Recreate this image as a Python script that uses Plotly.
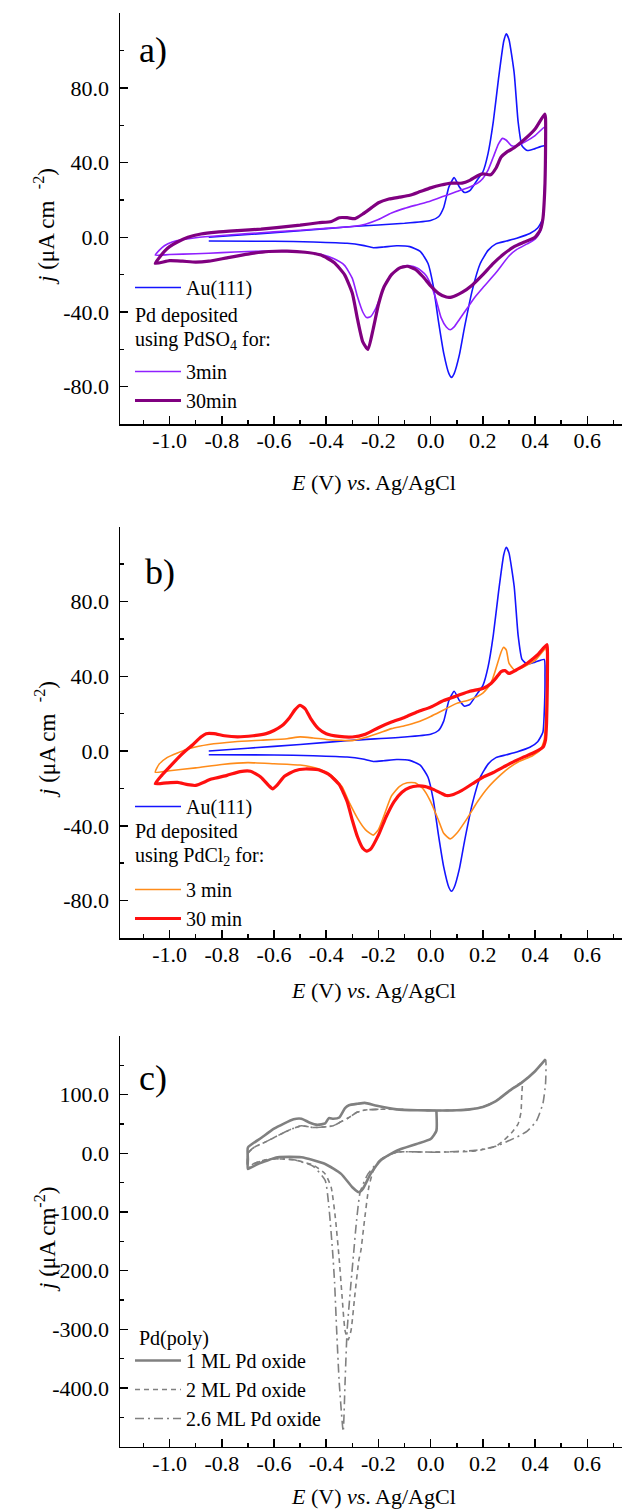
import plotly.graph_objects as go

W, H = 622, 1512

# ---------------- data (E in V, j in uA cm^-2) ----------------
# Panel a / b : Au(111)
au_E = [-0.85, -0.7, -0.5, -0.3, -0.1, 0.0, 0.03, 0.05, 0.07, 0.09, 0.11, 0.13, 0.15, 0.18, 0.2, 0.22, 0.24,
        0.26, 0.28, 0.29, 0.30, 0.32, 0.335, 0.35, 0.37, 0.40, 0.435,
        0.438, 0.435, 0.43, 0.41, 0.38, 0.33, 0.29, 0.25, 0.22, 0.19, 0.16, 0.13, 0.11, 0.09, 0.08, 0.07,
        0.05, 0.03, 0.01, -0.01, -0.04, -0.08, -0.13, -0.18, -0.22, -0.26, -0.32, -0.45, -0.6, -0.85]
au_j = [0.0, 1.5, 3.5, 5.8, 7.5, 9.0, 11, 16, 27, 32, 27, 24, 25, 31, 35, 45, 62,
        85, 105, 109, 106, 88, 62, 49, 46.5, 47.5, 49,
        40, 20, 10, 5, 2, -0.5, -2, -3.5, -7, -14, -28, -48, -63, -73, -75, -73,
        -62, -45, -26, -14, -7.5, -5, -4.5, -5.2, -5.6, -4.3, -3.2, -2.5, -2.1, -2.0]

# Panel a : PdSO4 3 min
s3_E = [-1.055, -1.04, -1.02, -0.99, -0.95, -0.9, -0.8, -0.7, -0.6, -0.5, -0.4, -0.3, -0.25, -0.2, -0.15,
        -0.1, -0.05, 0.0, 0.05, 0.1, 0.15, 0.18, 0.2, 0.22, 0.24, 0.26, 0.275, 0.29, 0.31, 0.33, 0.36, 0.4,
        0.436, 0.44, 0.44, 0.437, 0.43, 0.42, 0.4, 0.37, 0.33, 0.3, 0.25, 0.2, 0.17, 0.14, 0.11, 0.09,
        0.075, 0.06, 0.04, 0.02, 0.0, -0.02, -0.05, -0.08, -0.11, -0.14, -0.17, -0.19, -0.21, -0.23,
        -0.245, -0.26, -0.28, -0.30, -0.33, -0.37, -0.42, -0.5, -0.6, -0.7, -0.8, -0.9, -1.0, -1.055]
s3_j = [-9.6, -7, -4.5, -2.5, -1.2, -0.2, 1.0, 2.0, 2.9, 3.8, 4.8, 5.8, 7, 9.5, 13,
        15.5, 17.5, 19.5, 22, 24.5, 27, 29, 31.5, 36, 43, 50, 53, 52, 49, 49, 51, 54.5,
        59, 57, 45, 25, 10, 3, -1, -3.5, -6.5, -10, -19, -27, -32, -38, -44, -48,
        -49.5, -48, -43, -33, -25, -20, -16.5, -15.2, -15.8, -18.5, -24, -31, -38, -42.5,
        -43, -40, -32, -22, -15, -11.5, -9.2, -7.8, -7.4, -7.6, -8.2, -8.8, -9.2, -9.6]

# Panel a : PdSO4 30 min
s30_E = [-1.055, -1.04, -1.02, -1.0, -0.97, -0.93, -0.88, -0.82, -0.74, -0.65, -0.59, -0.5, -0.43, -0.38,
         -0.35, -0.32, -0.29, -0.26, -0.23, -0.2, -0.16, -0.12, -0.08, -0.04, 0.0, 0.04, 0.08, 0.12, 0.15,
         0.18, 0.2, 0.23, 0.25, 0.27, 0.29, 0.32, 0.36, 0.4, 0.437,
         0.44, 0.44, 0.437, 0.43, 0.42, 0.4, 0.36, 0.32, 0.28, 0.24, 0.2, 0.16, 0.12, 0.08, 0.06, 0.03,
         0.0, -0.03, -0.06, -0.09, -0.12, -0.15, -0.18, -0.2, -0.22, -0.24, -0.26, -0.28, -0.3, -0.33,
         -0.37, -0.42, -0.48, -0.55, -0.62, -0.7, -0.78, -0.85, -0.9, -0.95, -1.0, -1.055]
s30_j = [-14, -11, -7.5, -5, -2.5, 0, 1.8, 2.8, 3.6, 4.4, 5.2, 6.5, 7.8, 8.5,
         10.5, 10.5, 10, 12.5, 15.5, 18.5, 20.5, 21.5, 22.5, 24.5, 26.5, 28, 29, 29, 30.5,
         33, 34, 33.5, 37, 43, 45.5, 48, 52.5, 58, 66,
         64, 45, 25, 10, 4, 0, -2.5, -5, -9, -14, -20, -25.5, -29.5, -32, -32, -30,
         -26, -21, -17, -15.5, -16.5, -20, -27, -36, -49, -60, -56, -44, -30, -20,
         -13.5, -9.5, -8, -7.4, -7.6, -9, -11, -12.8, -13.3, -12.8, -12.5, -14]

# Panel b : PdCl2 3 min
c3_E = [-1.055, -1.04, -1.01, -0.97, -0.92, -0.85, -0.75, -0.65, -0.55, -0.5, -0.45, -0.4, -0.35, -0.3,
        -0.25, -0.2, -0.15, -0.1, -0.05, 0.0, 0.05, 0.1, 0.15, 0.2, 0.23, 0.25, 0.27, 0.28, 0.29, 0.3,
        0.32, 0.35, 0.4, 0.44,
        0.445, 0.445, 0.44, 0.435, 0.42, 0.39, 0.34, 0.3, 0.27, 0.22, 0.18, 0.14, 0.1, 0.075, 0.05,
        0.03, 0.0, -0.03, -0.06, -0.09, -0.12, -0.15, -0.18, -0.2, -0.22, -0.25, -0.28, -0.31, -0.34,
        -0.38, -0.43, -0.5, -0.6, -0.7, -0.8, -0.9, -1.0, -1.055]
c3_j = [-11.3, -7, -3.5, -1, 1.5, 3.5, 5, 5.8, 6.6, 7.6, 7, 6.2, 5.8, 5.6,
        7.2, 9.5, 12, 13.5, 15.5, 18.5, 22, 25.5, 27.5, 31, 36, 44, 53, 55.5, 54, 47,
        43.5, 44.5, 48.5, 54.8,
        53, 35, 15, 6, 0.5, -2.5, -5.5, -9, -12.5, -19.5, -27, -36, -44, -47, -44,
        -37, -27, -20, -17, -17, -19, -24, -35, -42, -45, -42, -36, -28, -19,
        -13, -9.5, -7.5, -6.8, -6.2, -7.2, -9, -10.5, -11.3]

# Panel b : PdCl2 30 min
c30_E = [-1.055, -1.03, -1.0, -0.97, -0.94, -0.91, -0.88, -0.86, -0.83, -0.79, -0.74, -0.68, -0.63, -0.6,
         -0.57, -0.54, -0.52, -0.5, -0.48, -0.46, -0.43, -0.4, -0.35, -0.3, -0.25, -0.2, -0.15, -0.1,
         -0.05, 0.0, 0.05, 0.1, 0.15, 0.2, 0.23, 0.25, 0.27, 0.285, 0.3, 0.33, 0.37, 0.41, 0.445,
         0.447, 0.447, 0.444, 0.44, 0.43, 0.4, 0.36, 0.32, 0.28, 0.24, 0.2, 0.16, 0.12, 0.08, 0.06,
         0.04, 0.01, -0.02, -0.05, -0.08, -0.11, -0.14, -0.17, -0.2, -0.23, -0.245, -0.26, -0.28, -0.3,
         -0.32, -0.35, -0.39, -0.43, -0.48, -0.52, -0.56, -0.59, -0.605, -0.62, -0.65, -0.69, -0.73,
         -0.78, -0.84, -0.9, -0.93, -0.97, -1.01, -1.055]
c30_j = [-17.5, -13, -8.5, -4, 0, 3.5, 7.5, 9.3, 9.3, 8.2, 7.6, 8.2, 9.3, 11,
         13.5, 18, 22, 24.5, 22.5, 17.5, 12, 9.3, 7.8, 7.5, 9, 12.5, 15.5, 18,
         21, 23.5, 27, 29.5, 32, 33.5, 36, 39, 42.5, 43, 41.5, 43.5, 47, 51.5, 57,
         55, 35, 15, 6, 2, -0.5, -3, -5.5, -8.5, -11.5, -14, -17.5, -21, -23.5, -23.8,
         -22.5, -20.5, -19, -18.7, -19.5, -22, -27, -35, -45, -52.5, -53.5, -52, -46, -37,
         -27, -18, -12.5, -10, -9.6, -10.5, -13.5, -18.5, -20.2, -18.5, -14, -10.8, -11,
         -13, -15, -18.4, -18, -16.8, -17, -17.5]

# Panel c : Pd(poly)
ml1_E = [0.022, 0.022, 0.0, -0.054, -0.13, -0.19, -0.23, -0.26, -0.275, -0.3, -0.343, -0.404, -0.495,
         -0.586, -0.662, -0.70,
         -0.70, -0.70, -0.647, -0.6, -0.525, -0.495, -0.465, -0.434, -0.404, -0.39, -0.373, -0.35,
         -0.328, -0.313, -0.28, -0.252, -0.206, -0.13, -0.05, 0.022, 0.1, 0.15, 0.2, 0.25, 0.3, 0.35,
         0.4, 0.44]
ml1_j = [73, 38.5, 24.4, 15.9, 4.5, -11.3, -35, -60.6, -66.3, -57.8, -35, -18.1, -6.8,
         -6.8, -18.1, -26.6,
         -10, 10, 27, 42, 58, 59, 52.7, 48.7, 51, 60, 59, 61,
         77, 82, 84.5, 86, 81, 75, 73.5, 73, 73.5, 75, 79, 89, 106, 121,
         140, 160]

ml2_E = [-0.70, -0.70, -0.677, -0.63, -0.586, -0.54, -0.495, -0.45, -0.41, -0.373, -0.343, -0.313,
         -0.282, -0.25, -0.206, -0.13, 0.0, 0.1, 0.15, 0.2, 0.25, 0.3, 0.35,
         0.349, 0.346, 0.335, 0.31, 0.28, 0.25, 0.17, 0.02, -0.13, -0.19, -0.22, -0.237, -0.255, -0.267,
         -0.275, -0.29, -0.305, -0.316, -0.328, -0.34, -0.35, -0.365, -0.381, -0.404, -0.45, -0.525,
         -0.617, -0.68, -0.70]
ml2_j = [-26.6, 0, 10, 20, 30, 40, 47, 44, 45, 47, 54, 61,
         70, 74, 75, 75, 73, 73.5, 75, 79, 89, 106, 121,
         100, 70, 50, 35, 22, 12, 4, 2, 2, -10, -30, -58, -120, -165,
         -182, -240, -302, -318, -302, -240, -182, -110, -58, -35, -20, -11,
         -9.6, -18, -26.6]

ml26_E = [-0.70, -0.70, -0.677, -0.63, -0.586, -0.54, -0.495, -0.45, -0.41, -0.373, -0.343, -0.313,
          -0.282, -0.25, -0.206, -0.13, 0.0, 0.1, 0.15, 0.2, 0.25, 0.3, 0.35, 0.4, 0.44,
          0.442, 0.44, 0.43, 0.405, 0.37, 0.34, 0.25, 0.17, 0.02, -0.13, -0.19, -0.24, -0.27, -0.285,
          -0.295, -0.305, -0.32, -0.328, -0.335, -0.35, -0.36, -0.368, -0.376, -0.39, -0.404, -0.45,
          -0.525, -0.617, -0.68, -0.70]
ml26_j = [-26.6, 0, 10, 20, 30, 40, 47, 44, 45, 47, 54, 61,
          70, 74, 75, 75, 73, 73.5, 75, 79, 89, 106, 121, 140, 160,
          150, 118, 85, 55, 38, 30, 12, 5, 2, 2, -10, -35, -66, -120,
          -170, -220, -302, -392, -474, -392, -302, -220, -165, -90, -46, -22,
          -11, -9.6, -18, -26.6]

x_tickvals = [-1.0, -0.8, -0.6, -0.4, -0.2, 0.0, 0.2, 0.4, 0.6]
x_ticktext = ["-1.0", "-0.8", "-0.6", "-0.4", "-0.2", "0.0", "0.2", "0.4", "0.6"]
x_minor = [-1.1, -0.9, -0.7, -0.5, -0.3, -0.1, 0.1, 0.3, 0.5, 0.7]
yab_tickvals = [-80, -40, 0, 40, 80]
yab_ticktext = ["-80.0", "-40.0", "0.0", "40.0", "80.0"]
yab_minor = [-60, -20, 20, 60, 100]
yc_tickvals = [-400, -300, -200, -100, 0, 100]
yc_ticktext = ["-400.0", "-300.0", "-200.0", "-100.0", "0.0", "100.0"]
yc_minor = [-450, -350, -250, -150, -50, 50, 150]

# ---------------- figure ----------------
FONT = "Liberation Serif, Times New Roman, serif"
BLUE, VIOLET, DPURPLE = "#1414FF", "#9020FF", "#800080"
ORANGE, RED, GRAY = "#FF8C1A", "#FF1010", "#808080"


def px_x(p):
    return p / W


def px_y(p):
    return 1 - p / H


fig = go.Figure()
sm = dict(shape="spline", smoothing=0.5)


def add(E, j, name, color, width, xa, ya, legend, dash="solid"):
    fig.add_trace(go.Scatter(x=E, y=j, mode="lines", name=name, xaxis=xa, yaxis=ya,
                             line=dict(color=color, width=width, dash=dash, **sm),
                             legend=legend, showlegend=True, hoverinfo="skip"))


add(au_E, au_j, "Au(111)", BLUE, 1.6, "x", "y", "legend")
add(s3_E, s3_j, "3min", VIOLET, 1.6, "x", "y", "legend2")
add(s30_E, s30_j, "30min", DPURPLE, 3.2, "x", "y", "legend2")
add(au_E, au_j, "Au(111)", BLUE, 1.6, "x2", "y2", "legend3")
add(c3_E, c3_j, "3 min", ORANGE, 1.6, "x2", "y2", "legend4")
add(c30_E, c30_j, "30 min", RED, 3.2, "x2", "y2", "legend4")
add(ml2_E, ml2_j, "2 ML Pd oxide", GRAY, 1.6, "x3", "y3", "legend5", dash="5px,4px")
add(ml26_E, ml26_j, "2.6 ML Pd oxide", GRAY, 1.6, "x3", "y3", "legend5", dash="9px,4px,2px,4px")
add(ml1_E, ml1_j, "1 ML Pd oxide", GRAY, 2.6, "x3", "y3", "legend5")

panels = [  # (top px, bottom px, yrange, tickvals, ticktext, minor)
    (13.3, 424.0, [-100, 120], yab_tickvals, yab_ticktext, yab_minor),
    (526.7, 938.0, [-100, 120], yab_tickvals, yab_ticktext, yab_minor),
    (1036.0, 1446.7, [-500, 200], yc_tickvals, yc_ticktext, yc_minor),
]

axis_common = dict(showline=True, linecolor="black", linewidth=1.5, mirror=False,
                   ticks="inside", ticklen=8, tickwidth=1.5, tickcolor="black",
                   showgrid=False, zeroline=False, tickmode="array",
                   tickfont=dict(family=FONT, size=22, color="black"))

layout = dict(width=W, height=H, margin=dict(l=0, r=0, t=0, b=0),
              paper_bgcolor="white", plot_bgcolor="white",
              font=dict(family=FONT, size=20, color="black"))

for i, (top, bot, yr, tv, tt, mn) in enumerate(panels):
    sfx = "" if i == 0 else str(i + 1)
    layout["xaxis" + sfx] = dict(axis_common, domain=[px_x(120), 1.0], range=[-1.19, 0.733],
                                 anchor="y" + sfx, tickvals=x_tickvals, ticktext=x_ticktext,
                                 ticklabelstandoff=-4,
                                 minor=dict(tickmode="array", tickvals=x_minor, ticks="inside",
                                            ticklen=4, tickwidth=1.5, tickcolor="black"))
    layout["yaxis" + sfx] = dict(axis_common, domain=[px_y(bot), px_y(top)], range=yr,
                                 anchor="x" + sfx, tickvals=tv, ticktext=tt,
                                 ticklabelstandoff=5,
                                 minor=dict(tickmode="array", tickvals=mn, ticks="inside",
                                            ticklen=4, tickwidth=1.5, tickcolor="black"))

leg_common = dict(bgcolor="rgba(0,0,0,0)", borderwidth=0, xanchor="left", yanchor="top",
                  itemwidth=46, tracegroupgap=0, font=dict(family=FONT, size=20, color="black"),
                  itemclick=False, traceorder="normal")
layout["legend"] = dict(leg_common, x=px_x(130), y=px_y(268))
layout["legend2"] = dict(leg_common, x=px_x(130), y=px_y(352))
layout["legend3"] = dict(leg_common, x=px_x(130), y=px_y(787))
layout["legend4"] = dict(leg_common, x=px_x(130), y=px_y(870))
layout["legend5"] = dict(leg_common, x=px_x(130), y=px_y(1341))

fig.update_layout(**layout)
# legend order for panel c: 1 ML, 2 ML, 2.6 ML
fig.data[8].legendrank = 1
fig.data[6].legendrank = 2
fig.data[7].legendrank = 3


def note(text, x, y, size=20, anchor="left", angle=0, yanchor="middle"):
    fig.add_annotation(text=text, x=px_x(x), y=px_y(y), xref="paper", yref="paper",
                       xanchor=anchor, yanchor=yanchor, showarrow=False, textangle=angle,
                       font=dict(family=FONT, size=size, color="black"))


# panel labels
note("a)", 153, 50, size=36, anchor="center")
note("b)", 160, 572, size=36, anchor="center")
note("c)", 153, 1078, size=36, anchor="center")

# legend headers
note("Pd deposited", 133, 315)
note("using PdSO<sub>4</sub> for:", 133, 341)
note("Pd deposited", 133, 831)
note("using PdCl<sub>2</sub> for:", 133, 857)
note("Pd(poly)", 137, 1338)

# axis titles
xt = "<i>E</i> (V) <i>vs</i>. Ag/AgCl"
note(xt, 373, 483, size=22, anchor="center")
note(xt, 373, 990, size=22, anchor="center")
note(xt, 373, 1496, size=22, anchor="center")
note("<i>j</i> (μA cm&nbsp; <sup>-2</sup>)", 45, 227, size=23, anchor="center", angle=-90)
note("<i>j</i> (μA cm&nbsp; <sup>-2</sup>)", 45, 740, size=23, anchor="center", angle=-90)
note("<i>j</i> (μA cm<sup>-2</sup>)", 45, 1240, size=23, anchor="center", angle=-90)

fig.write_html("out.html", config={"displayModeBar": False, "staticPlot": True},
               post_script="document.body.style.margin='0';")
